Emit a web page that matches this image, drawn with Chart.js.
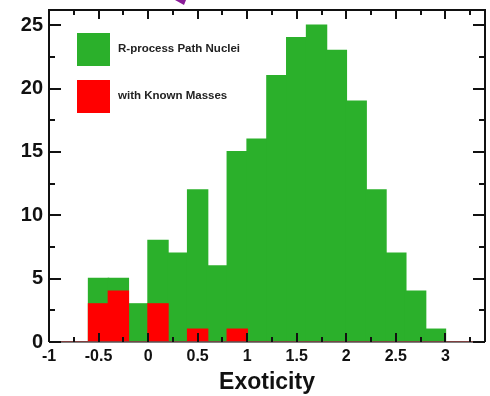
<!DOCTYPE html>
<html>
<head>
<meta charset="utf-8">
<script src="https://cdn.jsdelivr.net/npm/chart.js@4"></script>
<style>
  html, body { margin: 0; padding: 0; background: #fff; }
  #wrap { width: 490px; height: 396px; position: relative; }
</style>
</head>
<body>
<div id="wrap"><canvas id="myChart"></canvas></div>
<script>
// bin centres (bin width 0.2)
const binCenters = [-0.5, -0.3, -0.1, 0.1, 0.3, 0.5, 0.7, 0.9, 1.1, 1.3, 1.5, 1.7, 1.9, 2.1, 2.3, 2.5, 2.7, 2.9]
const pathNuclei = [5, 5, 3, 8, 7, 12, 6, 15, 16, 21, 24, 25, 23, 19, 12, 7, 4, 1]
const knownMasses = [3, 4, 0, 3, 0, 1, 0, 1, 0, 0, 0, 0, 0, 0, 0, 0, 0, 0]
const xTickLabels = [-1, -0.5, 0, 0.5, 1, 1.5, 2, 2.5, 3]
const yTickLabels = [0, 5, 10, 15, 20, 25]

const GREEN = '#2bb02b'
const RED = '#ff0000'
const FONT = '"Liberation Sans", Arial, sans-serif'
const ctx = document.getElementById('myChart')

const toPoints = (vals) => binCenters.map((x, i) => ({ x, y: vals[i] }))

// frame, inward ticks, legend boxes, slide arrow fragment
const decor = {
  id: 'decor',
  beforeDraw (chart) {
    const c = chart.ctx
    c.save()
    c.fillStyle = '#8a1c98'
    c.beginPath()
    c.moveTo(175, 0)
    c.lineTo(186, 0)
    c.lineTo(184, 5)
    c.closePath()
    c.fill()
    c.restore()
  },
  afterDatasetsDraw (chart) {
    const c = chart.ctx
    const { left, right, top, bottom } = chart.chartArea
    const xs = chart.scales.x
    const ys = chart.scales.y
    c.save()
    // red zero outline outside the filled bins
    c.strokeStyle = RED
    c.lineWidth = 1
    c.beginPath()
    c.moveTo(left, bottom - 0.5)
    c.lineTo(xs.getPixelForValue(-0.6), bottom - 0.5)
    c.moveTo(xs.getPixelForValue(3), bottom - 0.5)
    c.lineTo(right, bottom - 0.5)
    c.stroke()

    c.strokeStyle = '#111'
    c.lineWidth = 2
    c.beginPath()
    c.moveTo(left, bottom)
    c.lineTo(left, top)
    c.lineTo(right, top)
    c.lineTo(right, bottom)
    c.stroke()
    c.lineWidth = 1.5
    c.strokeStyle = '#555'
    c.beginPath()
    c.moveTo(left, bottom)
    c.lineTo(right, bottom)
    c.stroke()

    c.strokeStyle = '#111'
    c.lineWidth = 2
    c.beginPath()
    for (let v = -1; v <= 3.4001; v += 0.25) {
      const px = Math.round(xs.getPixelForValue(v))
      const major = Math.abs(v * 2 - Math.round(v * 2)) < 1e-6
      const len = major ? 9 : 5
      c.moveTo(px, bottom)
      c.lineTo(px, bottom - len)
      c.moveTo(px, top)
      c.lineTo(px, top + len)
    }
    for (let v = 0; v <= 26; v += 2.5) {
      const py = Math.round(ys.getPixelForValue(v))
      const major = v % 5 === 0
      const len = major ? 12 : 6
      c.moveTo(left, py)
      c.lineTo(left + len, py)
      c.moveTo(right, py)
      c.lineTo(right - len, py)
    }
    c.stroke()

    // legend
    const items = [
      { label: 'R-process Path Nuclei', color: GREEN, y: 33 },
      { label: 'with Known Masses', color: RED, y: 80 }
    ]
    c.font = 'bold 11.5px ' + FONT
    c.textBaseline = 'middle'
    items.forEach(it => {
      c.fillStyle = it.color
      c.fillRect(77, it.y, 33, 33)
      c.fillStyle = '#222'
      c.fillText(it.label, 118, it.y + 16)
    })
    c.restore()
  }
}

new Chart(ctx, {
  type: 'bar',
  data: {
    datasets: [
      {
        label: 'with Known Masses',
        data: toPoints(knownMasses),
        backgroundColor: RED,
        grouped: false,
        order: 0,
        barPercentage: 1,
        categoryPercentage: 1,
        inflateAmount: 0.8
      },
      {
        label: 'R-process Path Nuclei',
        data: toPoints(pathNuclei),
        backgroundColor: GREEN,
        grouped: false,
        order: 1,
        barPercentage: 1,
        categoryPercentage: 1,
        inflateAmount: 0.8
      }
    ]
  },
  options: {
    responsive: true,
    maintainAspectRatio: false,
    animation: false,
    layout: { padding: { top: 10, right: 5, left: 0, bottom: 0 } },
    plugins: {
      legend: { display: false },
      tooltip: { enabled: false }
    },
    scales: {
      x: {
        type: 'linear',
        min: -1,
        max: 3.4,
        offset: false,
        grid: { display: false, drawTicks: false },
        border: { display: false },
        afterBuildTicks: (s) => { s.ticks = xTickLabels.map(value => ({ value })) },
        afterFit: (s) => { s.height = 54; s.paddingLeft = 0; s.paddingRight = 0 },
        ticks: {
          color: '#111',
          padding: 5,
          maxRotation: 0,
          autoSkip: false,
          callback: (v) => String(v),
          font: { family: FONT, size: 16, weight: 'bold' }
        },
        title: {
          display: true,
          text: 'Exoticity',
          color: '#111',
          padding: { top: 0, bottom: 0 },
          font: { family: FONT, size: 23, weight: 'bold' }
        }
      },
      y: {
        min: 0,
        max: 26.2,
        grid: { display: false, drawTicks: false },
        border: { display: false },
        afterBuildTicks: (s) => { s.ticks = yTickLabels.map(value => ({ value })) },
        afterFit: (s) => { s.width = 49; s.paddingTop = 0; s.paddingBottom = 0 },
        ticks: {
          color: '#111',
          padding: 6,
          callback: (v) => String(v),
          font: { family: FONT, size: 20, weight: 'bold' }
        }
      }
    }
  },
  plugins: [decor]
})
</script>
</body>
</html>
